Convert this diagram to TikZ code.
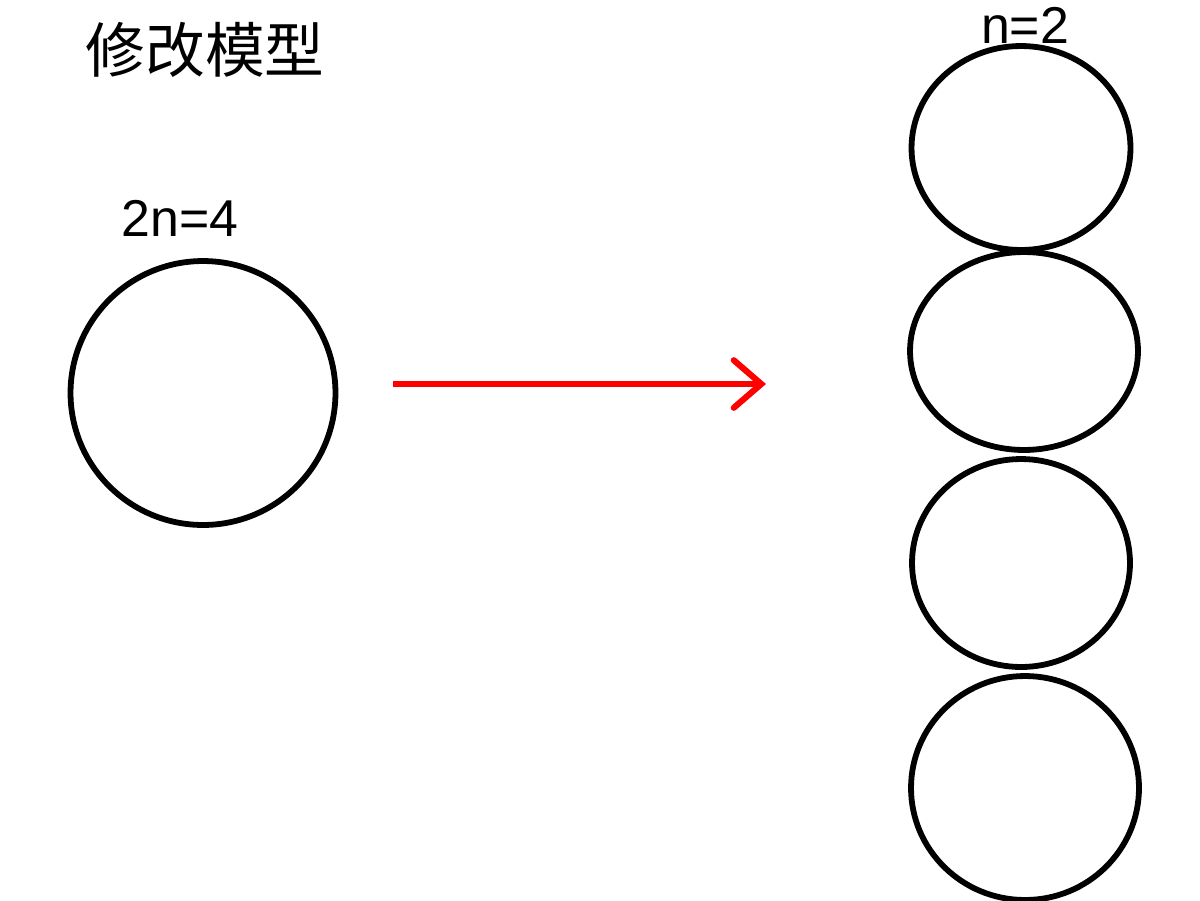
\documentclass[tikz,border=0pt]{standalone}
\usepackage{fontspec}
\setmainfont{Liberation Sans}
\newfontfamily\cjk{Noto Sans CJK SC}
\usetikzlibrary{shapes.geometric,arrows.meta}
\begin{document}
\begin{tikzpicture}[x=0.02cm,y=-0.02cm,
  ring/.style={draw=black,line width=3.3pt,ellipse,inner sep=0pt},
  lbl/.style={font=\fontsize{29.5}{31}\selectfont,inner sep=0pt}]
\useasboundingbox (0,0) rectangle (1200,900);
\node[lbl,font=\cjk\fontsize{34}{36}\selectfont] (title) at (205,50) {修改模型};
\node[lbl] (l1) at (180,218) {2n=4};
\node[lbl] (l2) at (1025,25) {n=2};
\node[ring,minimum width=5.3cm,minimum height=5.28cm] (big) at (203,393) {};
\node[ring,minimum width=4.38cm,minimum height=4.08cm] (e1) at (1021,148) {};
\node[ring,minimum width=4.56cm,minimum height=3.96cm] (e2) at (1024,351) {};
\node[ring,minimum width=4.36cm,minimum height=4.16cm] (e3) at (1021,563) {};
\node[ring,minimum width=4.56cm,minimum height=4.48cm] (e4) at (1025,788) {};
\coordinate (a) at (393,384);
\coordinate (b) at (766,384);
\draw[red,line width=3.5pt,-{Straight Barb[length=0.55cm,width=0.95cm,line cap=round]}] (a) -- (b);
\end{tikzpicture}
\end{document}
